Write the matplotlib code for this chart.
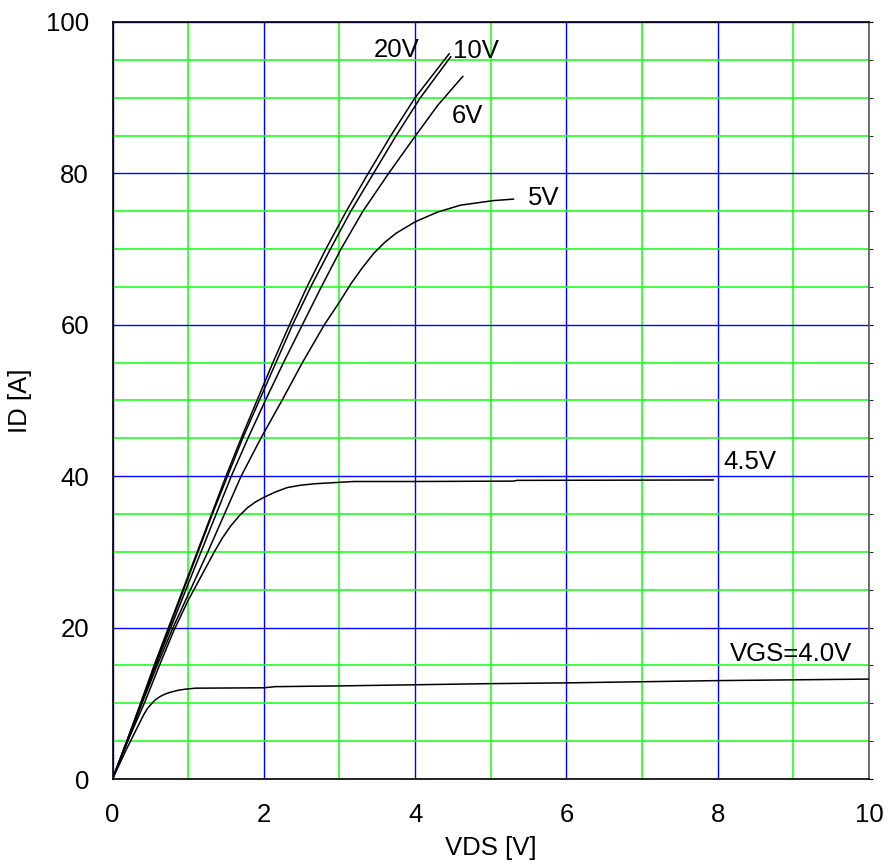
import numpy as np
import matplotlib
matplotlib.use("Agg")
import matplotlib.pyplot as plt
from matplotlib.ticker import MultipleLocator

plt.rcParams['font.family'] = ['Liberation Sans', 'DejaVu Sans']

# output curves, VDS [V] -> ID [A]
vds_20 = [0, 0.19, 0.37, 0.55, 0.74, 0.93, 1.12, 1.31, 1.50, 1.70, 1.91, 2.12, 2.34,
          2.57, 2.82, 3.09, 3.38, 3.68, 4.00, 4.45]
id_20 = [0, 5, 10, 15, 20, 25, 30, 35, 40, 45, 50, 55, 60,
         65, 70, 75, 80, 85, 90, 95.8]

vds_10 = [0, 0.19, 0.38, 0.56, 0.75, 0.94, 1.13, 1.32, 1.52, 1.72, 1.94, 2.16, 2.38,
          2.62, 2.88, 3.15, 3.45, 3.75, 4.07, 4.47]
id_10 = [0, 5, 10, 15, 20, 25, 30, 35, 40, 45, 50, 55, 60,
         65, 70, 75, 80, 85, 90, 95.4]

vds_6 = [0, 0.19, 0.38, 0.57, 0.77, 0.97, 1.17, 1.37, 1.57, 1.79, 2.02, 2.26, 2.51,
         2.76, 3.02, 3.31, 3.65, 4.00, 4.30, 4.63]
id_6 = [0, 5, 10, 15, 20, 25, 30, 35, 40, 45, 50, 55, 60,
        65, 70, 75, 80, 84.9, 89.0, 92.8]

vds_5 = [0, 0.20, 0.39, 0.59, 0.80, 1.03, 1.26, 1.48, 1.70, 1.96, 2.24, 2.51, 2.80,
         3.00, 3.15, 3.30, 3.45, 3.60, 3.75, 4.00, 4.30, 4.60, 5.03, 5.30]
id_5 = [0, 5, 10, 15, 20, 25, 30, 35, 40, 45, 50, 55, 60,
        63.0, 65.4, 67.5, 69.4, 70.9, 72.1, 73.6, 74.9, 75.8, 76.4, 76.6]

vds_45 = [0, 0.20, 0.42, 0.62, 0.81, 1.00, 1.20, 1.34, 1.45, 1.56, 1.67, 1.78,
          1.89, 2.00, 2.15, 2.31, 2.48, 2.67, 3.19, 4.00, 5.30, 5.35, 7.94]
id_45 = [0, 5.0, 10, 15, 19.6, 23.6, 27.3, 29.9, 31.8, 33.4, 34.7, 35.8,
         36.6, 37.2, 37.9, 38.5, 38.8, 39.0, 39.3, 39.3, 39.35, 39.45, 39.5]

vds_40 = [0, 0.19, 0.30, 0.41, 0.46, 0.52, 0.57, 0.63, 0.69, 0.76, 0.88, 0.99, 1.10,
          2.00, 2.15, 3.00, 4.00, 5.00, 6.00, 7.00, 8.00, 9.00, 10.0]
id_40 = [0, 4.05, 6.25, 8.45, 9.3, 10.0, 10.5, 10.9, 11.2, 11.45, 11.75, 11.9, 12.0,
         12.05, 12.2, 12.3, 12.45, 12.6, 12.7, 12.85, 13.0, 13.1, 13.2]

curves = [(vds_20, id_20), (vds_10, id_10), (vds_6, id_6),
          (vds_5, id_5), (vds_45, id_45), (vds_40, id_40)]

labels = ["20V", "10V", "6V", "5V", "4.5V", "VGS=4.0V"]
label_pos = [(3.76, 96.3), (4.80, 96.1), (4.69, 87.6), (5.70, 76.7), (8.43, 41.9), (8.97, 16.5)]

fig = plt.figure(figsize=(8.88, 8.65), dpi=100)
ax = fig.add_axes([0.1267, 0.0994, 0.8519, 0.8752])

for x, y in curves:
    ax.plot(x, y, color="black", linewidth=1.1, zorder=3)

for txt, (lx, ly) in zip(labels, label_pos):
    ax.text(lx, ly, txt, fontsize=18.5, ha="center", va="center", zorder=4)

ax.set_xlim(0, 10)
ax.set_ylim(0, 100)
ax.xaxis.set_major_locator(MultipleLocator(2))
ax.xaxis.set_minor_locator(MultipleLocator(1))
ax.yaxis.set_major_locator(MultipleLocator(20))
ax.yaxis.set_minor_locator(MultipleLocator(5))

ax.grid(which="major", color="#0000ff", linewidth=1.0, zorder=1)
ax.grid(which="minor", color="#22ff22", linewidth=1.2, zorder=1)
ax.set_axisbelow(True)

ax.tick_params(axis="x", which="both", length=0, labelsize=18.5, pad=17)
ax.tick_params(axis="y", which="both", left=False, right=True, labelleft=True,
               labelright=False, length=3, direction="out", labelsize=18.5, pad=14)
ax.set_xlabel("VDS [V]", fontsize=18.5)
ax.set_ylabel("ID [A]", fontsize=18.5)
ax.xaxis.set_label_coords(0.5, -0.0753)
ax.yaxis.set_label_coords(-0.1063, 0.5)

for s in ax.spines.values():
    s.set_linewidth(1.2)
    s.set_color("black")
ax.spines["right"].set_color("#555555")

fig.savefig("out.png", dpi=100)
